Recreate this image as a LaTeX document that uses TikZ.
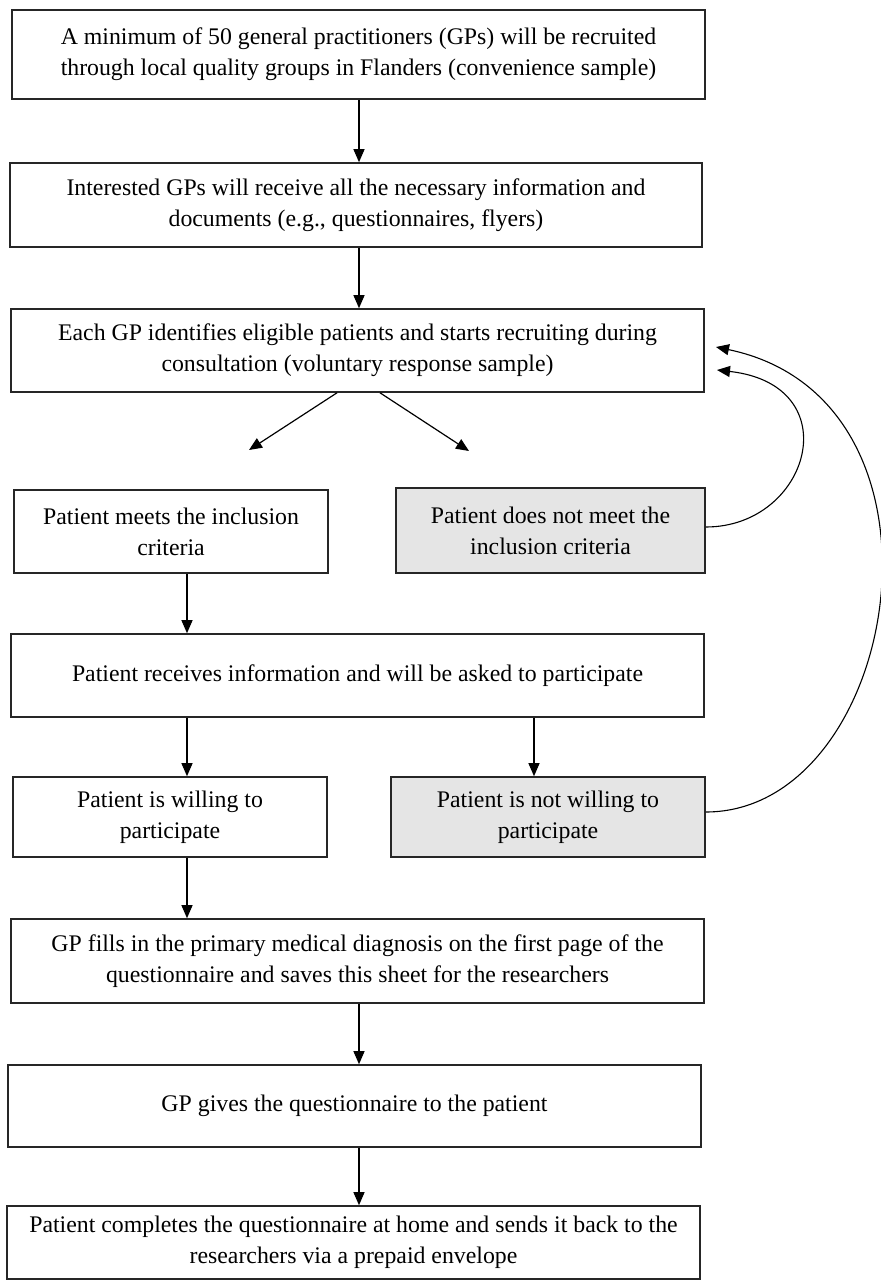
\documentclass[tikz,border=0pt]{standalone}
\usepackage{fontspec}
\setmainfont{Liberation Serif}
\usetikzlibrary{arrows.meta}
\begin{document}
\begin{tikzpicture}[x=1pt,y=-1pt,
  box/.style={draw=black!85, line width=1.6pt, fill=white, align=center, inner sep=0pt,
    font=\fontsize{23.8}{31}\selectfont},
  greybox/.style={box, fill=black!10},
  arr/.style={line width=1.2pt, -{Triangle[length=13pt,width=11pt]}},
  carr/.style={line width=1.1pt, -{Triangle[length=13pt,width=11pt]}},
]
\useasboundingbox[fill=white] (0,0) rectangle (880,1281);

\node[box, minimum width=693pt, minimum height=89pt] (b1) at (358.5,54.5)
  {A minimum of 50 general practitioners (GPs) will be recruited\\through local quality groups in Flanders (convenience sample)};
\node[box, minimum width=692pt, minimum height=84pt] (b2) at (356,205)
  {Interested GPs will receive all the necessary information and\\documents (e.g., questionnaires, flyers)};
\node[box, minimum width=693pt, minimum height=83pt] (b3) at (357.5,350.5)
  {Each GP identifies eligible patients and starts recruiting during\\consultation (voluntary response sample)};
\node[box, minimum width=314pt, minimum height=83pt] (b4) at (171,531.5)
  {Patient meets the inclusion\\criteria};
\node[greybox, minimum width=309pt, minimum height=85pt] (b5) at (550.5,530.5)
  {Patient does not meet the\\inclusion criteria};
\node[box, minimum width=693pt, minimum height=83pt] (b6) at (357.5,675.5)
  {Patient receives information and will be asked to participate};
\node[box, minimum width=314pt, minimum height=80pt] (b7) at (170,817)
  {Patient is willing to\\participate};
\node[greybox, minimum width=314pt, minimum height=80pt] (b8) at (548,817)
  {Patient is not willing to\\participate};
\node[box, minimum width=693pt, minimum height=84pt] (b9) at (357.5,961)
  {GP fills in the primary medical diagnosis on the first page of the\\questionnaire and saves this sheet for the researchers};
\node[box, minimum width=693pt, minimum height=82pt] (b10) at (354.5,1106)
  {GP gives the questionnaire to the patient};
\node[box, minimum width=693pt, minimum height=73pt] (b11) at (353.5,1242.5)
  {Patient completes the questionnaire at home and sends it back to the\\researchers via a prepaid envelope};

\coordinate (cm) at (359,0);
\coordinate (cl) at (187,0);
\coordinate (cr) at (534,0);
\coordinate (dlx) at (337,0);
\coordinate (drx) at (380,0);
\coordinate (dl) at (249,450);
\coordinate (dr) at (469,451);
\coordinate (t1) at (717,370);
\coordinate (t2) at (716,347);

\draw[arr] (b1.south -| cm) -- (b2.north -| cm);
\draw[arr] (b2.south -| cm) -- (b3.north -| cm);
\draw[arr] (b3.south -| dlx) -- (dl);
\draw[arr] (b3.south -| drx) -- (dr);
\draw[arr] (b4.south -| cl) -- (b6.north -| cl);
\draw[arr] (b6.south -| cl) -- (b7.north -| cl);
\draw[arr] (b6.south -| cr) -- (b8.north -| cr);
\draw[arr] (b7.south -| cl) -- (b9.north -| cl);
\draw[arr] (b9.south -| cm) -- (b10.north -| cm);
\draw[arr] (b10.south -| cm) -- (b11.north -| cm);

\draw[carr] ([yshift=3.5pt]b5.east) .. controls (810,527) and (850,385) .. (t1);
\draw[carr] ([yshift=5pt]b8.east) .. controls (900,812) and (970,400) .. (t2);
\end{tikzpicture}
\end{document}
